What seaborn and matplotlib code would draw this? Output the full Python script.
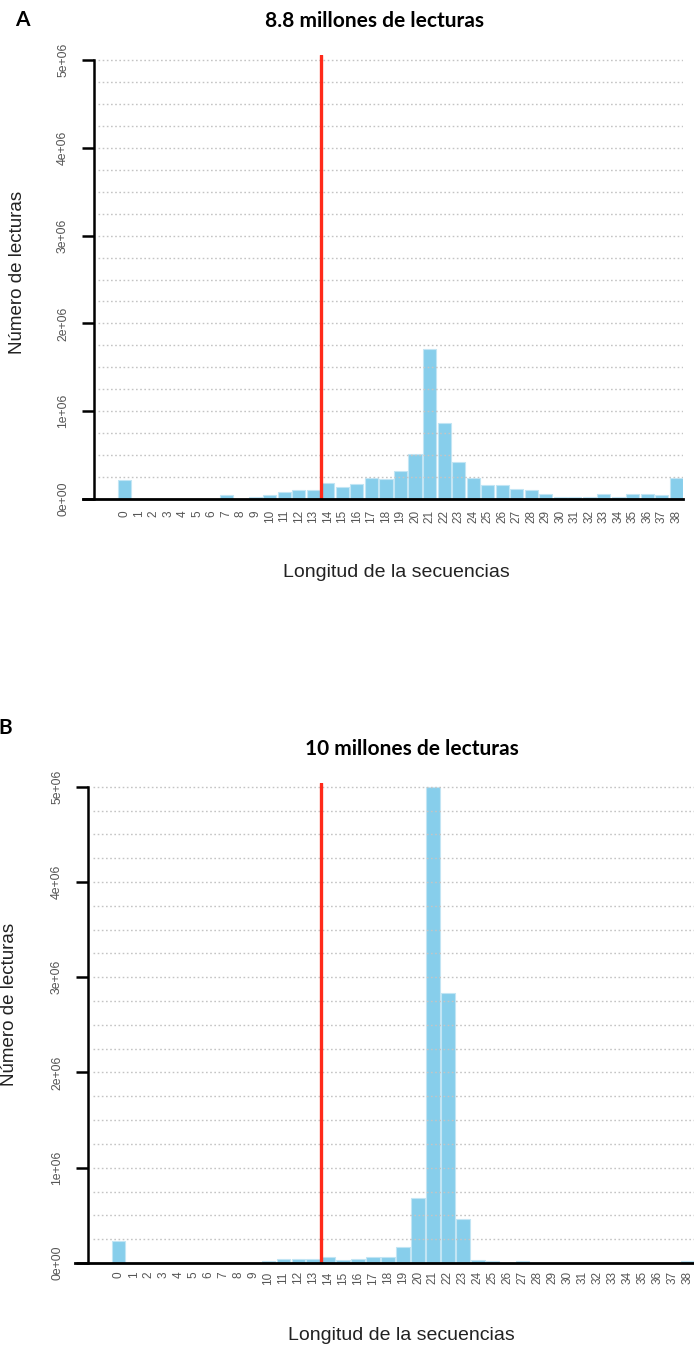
import numpy as np
import pandas as pd
import matplotlib
matplotlib.use("Agg")
import matplotlib.pyplot as plt
import seaborn as sns

# Sequence length categories (x axis)
lengths = list(range(39))

# Read counts per sequence length, library A (8.8 M reads)
reads_a = [0.216e6, 0, 0, 0, 0, 0, 0, 0.040e6, 0.005e6, 0.027e6,
           0.040e6, 0.083e6, 0.100e6, 0.100e6, 0.186e6, 0.140e6, 0.175e6, 0.240e6, 0.230e6, 0.320e6,
           0.510e6, 1.710e6, 0.860e6, 0.420e6, 0.240e6, 0.156e6, 0.156e6, 0.114e6, 0.100e6, 0.057e6,
           0.023e6, 0.023e6, 0.023e6, 0.057e6, 0.023e6, 0.057e6, 0.057e6, 0.040e6, 0.240e6]

# Read counts per sequence length, library B (10 M reads)
reads_b = [0.234e6, 0, 0, 0, 0, 0, 0, 0, 0, 0,
           0.017e6, 0.042e6, 0.042e6, 0.042e6, 0.060e6, 0.028e6, 0.042e6, 0.060e6, 0.060e6, 0.165e6,
           0.680e6, 5.000e6, 2.830e6, 0.460e6, 0.030e6, 0.017e6, 0.004e6, 0.017e6, 0, 0,
           0, 0, 0, 0, 0, 0, 0, 0, 0.017e6]

y_ticks = [0, 1e6, 2e6, 3e6, 4e6, 5e6]
y_tick_labels = ["0e+00", "1e+06", "2e+06", "3e+06", "4e+06", "5e+06"]
cutoff = 13.5

titles = ["8.8 millones de lecturas", "10 millones de lecturas"]
panel_tags = ["A", "B"]
x_title = "Longitud de la secuencias"
y_title = "Número de lecturas"

sns.set_theme(style="white")
plt.rcParams['font.family'] = ['Liberation Sans', 'DejaVu Sans']

W, H = 694, 1350
fig = plt.figure(figsize=(W / 100, H / 100), dpi=100)


def px_axes(left, right, top, bottom):
    return fig.add_axes([left / W, 1 - bottom / H, (right - left) / W, (bottom - top) / H])


def fig_text(x, y, s, **kw):
    fig.text(x / W, 1 - y / H, s, **kw)


def draw_panel(ax, values, xlim, spine_x, ytop, xpad):
    df = pd.DataFrame({"longitud": lengths, "lecturas": values})
    sns.barplot(data=df, x="longitud", y="lecturas", color="#87CEEB", saturation=1,
                width=0.9, edgecolor="#c2e5f4", linewidth=0.8, ax=ax, zorder=2)
    ax.set_xlim(*xlim)
    ax.set_ylim(0, ytop)
    # dotted horizontal guides every 0.25e6
    for v in np.arange(0.25e6, 5.01e6, 0.25e6):
        ax.hlines(v, spine_x + 0.3, xlim[1], colors="#c4c4c4",
                  linestyles=(0, (1.2, 1.8)), linewidth=1.0, zorder=3)
    ax.axvline(cutoff, color="#ff2a1a", linewidth=2.4, zorder=5)

    for side in ("top", "right"):
        ax.spines[side].set_visible(False)
    ax.spines["left"].set_position(("data", spine_x))
    ax.spines["left"].set_bounds(0, 5e6)
    ax.spines["left"].set_linewidth(1.8)
    ax.spines["left"].set_color("black")
    ax.spines["bottom"].set_linewidth(2.0)
    ax.spines["bottom"].set_color("black")
    ax.spines["left"].set_zorder(6)
    ax.spines["bottom"].set_zorder(6)

    ax.set_yticks(y_ticks)
    ax.set_yticklabels(y_tick_labels)
    ax.tick_params(axis="y", length=9, width=1.8, color="black", labelcolor="#555555",
                   labelsize=8.8, pad=9, labelrotation=90, left=True)
    for lab in ax.get_yticklabels():
        lab.set_va("center")
    ax.tick_params(axis="x", length=0, labelcolor="#555555", labelsize=8.5,
                   pad=xpad, labelrotation=90)
    for lab in ax.get_xticklabels():
        lab.set_va("top")
    ax.set_xlabel("")
    ax.set_ylabel("")
    ax.grid(False)
    ax.set_facecolor("white")


# Panel A
ax_a = px_axes(83, 683, 55, 499)
draw_panel(ax_a, reads_a, (-2.86, 38.45), -2.1, 5e6 * 444 / 439, 8)
fig_text(22, 20, panel_tags[0], fontsize=15, fontweight="bold", family="Lato",
         ha="center", va="center", color="black")
fig_text(265, 21, titles[0], fontsize=15, fontweight="bold", family="Lato",
         ha="left", va="center", color="black")
fig_text(18, 272, y_title, fontsize=13.5, rotation=90, ha="center", va="center", color="#222222")
fig_text(396, 573, x_title, fontsize=14, ha="center", va="center", color="#222222")

# Panel B
ax_b = px_axes(75, 694, 783, 1263)
draw_panel(ax_b, reads_b, (-2.92, 38.45), -2.05, 5e6 * 480 / 476.3, 6)
fig_text(5, 728, panel_tags[1], fontsize=15, fontweight="bold", family="Lato",
         ha="center", va="center", color="black")
fig_text(305, 749, titles[1], fontsize=15, fontweight="bold", family="Lato",
         ha="left", va="center", color="black")
fig_text(10, 1004, y_title, fontsize=13.5, rotation=90, ha="center", va="center", color="#222222")
fig_text(401, 1335, x_title, fontsize=14, ha="center", va="center", color="#222222")

fig.savefig("out.png", dpi=100, facecolor="white")
